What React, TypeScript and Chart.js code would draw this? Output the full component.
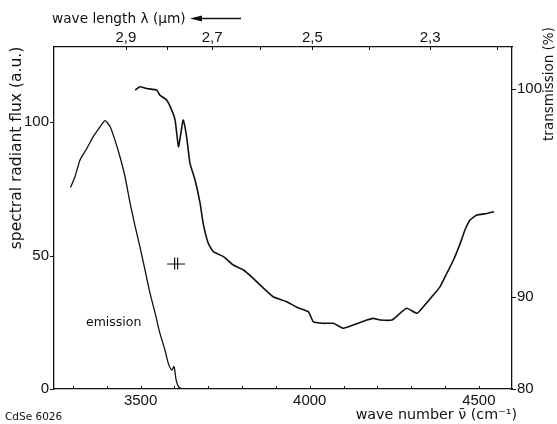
import React, { useEffect, useRef } from "react";
import { Chart, registerables, LinearScale } from "chart.js";
Chart.register(...registerables);

// ---- data (wave number in cm^-1) ----
const emissionX = [3293, 3306, 3321, 3341, 3360, 3380, 3395, 3410, 3424, 3439, 3454, 3469, 3484, 3498, 3513, 3528, 3543, 3557, 3572, 3582, 3592, 3599, 3605, 3612, 3625, 3655];
const emissionY = [75.5, 79.5, 85.8, 90.1, 94.5, 98.2, 100.5, 98.2, 93.3, 87, 79.5, 69.6, 60.8, 53.3, 44.6, 35.8, 28.4, 20.9, 14.6, 9.6, 7.1, 8.4, 3.4, 0.9, 0, 0];

const transX = [3484, 3498, 3518, 3548, 3557, 3577, 3592, 3602, 3612, 3619, 3626, 3636, 3646, 3661, 3676, 3685, 3700, 3715, 3745, 3774, 3804, 3833, 3853, 3892, 3932, 3962, 3996, 4011, 4040, 4070, 4099, 4129, 4169, 4188, 4208, 4243, 4267, 4287, 4317, 4336, 4361, 4385, 4405, 4425, 4445, 4459, 4474, 4494, 4524, 4545];
const transY = [99.95, 100.11, 100.03, 99.95, 99.71, 99.47, 98.99, 98.51, 97.23, 97.87, 98.51, 97.71, 96.43, 95.63, 94.5, 93.54, 92.58, 92.18, 91.94, 91.54, 91.3, 90.9, 90.58, 90.01, 89.49, 88.88, 88.4, 87.29, 87.14, 87.14, 86.6, 86.96, 87.5, 87.68, 87.5, 87.5, 88.23, 88.77, 88.23, 88.95, 90.01, 90.49, 91.13, 91.78, 92.58, 93.22, 93.7, 93.94, 94.02, 94.1];

const waveNumberTicks = [3300, 3400, 3500, 3600, 3700, 3800, 3900, 4000, 4100, 4200, 4300, 4400, 4500];
const waveNumberLabels = [3500, 4000, 4500];
const wavelengthTicks = [2.9, 2.8, 2.7, 2.6, 2.5, 2.4, 2.3, 2.2];
const wavelengthLabels = ["2,9", "2,7", "2,5", "2,3"];
const fluxTicks = [0, 50, 100];
const transTicks = [80, 90, 100];

const markerX = [3605];
const markerY = [47];

// layout of the (non-uniform) transmission axis: value -> fraction of plot height
const transAxisValues = [80, 90, 100, 102.02];
const transAxisFractions = [0, 0.269, 0.877, 1];

class PiecewiseScale extends LinearScale {
  static id = "piecewise";
  static defaults = (LinearScale as any).defaults;
  getPixelForValue(value: number) {
    const v = transAxisValues;
    const f = transAxisFractions;
    let i = 0;
    while (i < v.length - 2 && value > v[i + 1]) i++;
    const dec = f[i] + ((value - v[i]) / (v[i + 1] - v[i])) * (f[i + 1] - f[i]);
    return (this as any).getPixelForDecimal(dec);
  }
  getValueForPixel(pixel: number) {
    const dec = (this as any).getDecimalForPixel(pixel);
    const v = transAxisValues;
    const f = transAxisFractions;
    let i = 0;
    while (i < f.length - 2 && dec > f[i + 1]) i++;
    return v[i] + ((dec - f[i]) / (f[i + 1] - f[i])) * (v[i + 1] - v[i]);
  }
}
Chart.register(PiecewiseScale as any);

const TICK_FONT = "'Liberation Sans', 'DejaVu Sans', sans-serif";
const TEXT_FONT = "'DejaVu Sans', sans-serif";

const inTicks = {
  id: "inTicks",
  afterDraw(chart: any) {
    const { ctx, chartArea } = chart;
    const { left, right, top, bottom } = chartArea;
    const line = (x1: number, y1: number, x2: number, y2: number) => {
      ctx.beginPath();
      ctx.moveTo(x1, y1);
      ctx.lineTo(x2, y2);
      ctx.stroke();
    };
    ctx.save();
    ctx.strokeStyle = "#111";
    ctx.lineWidth = 1;
    for (const t of chart.scales.x.ticks) {
      const p = Math.round(chart.scales.x.getPixelForValue(t.value)) + 0.5;
      line(p, bottom, p, bottom - 3);
    }
    for (const t of chart.scales.x2.ticks) {
      const p = Math.round(chart.scales.x2.getPixelForValue(t.value)) + 0.5;
      line(p, top, p, top + 3);
    }
    for (const t of chart.scales.y.ticks) {
      const p = Math.round(chart.scales.y.getPixelForValue(t.value)) + 0.5;
      line(left, p, left - 4, p);
    }
    for (const t of chart.scales.y2.ticks) {
      const p = Math.round(chart.scales.y2.getPixelForValue(t.value)) + 0.5;
      line(right, p, right + 4, p);
    }
    // resolution marker
    for (let i = 0; i < markerX.length; i++) {
      const mx = chart.scales.x.getPixelForValue(markerX[i]);
      const my = chart.scales.y.getPixelForValue(markerY[i]);
      ctx.lineWidth = 1;
      line(mx - 9, my + 0.5, mx + 9, my + 0.5);
      ctx.lineWidth = 1.2;
      line(mx - 1.5, my - 6, mx - 1.5, my + 6);
      line(mx + 1.5, my - 6, mx + 1.5, my + 6);
    }
    ctx.restore();
  },
};

const annotations = {
  id: "annotations",
  afterDraw(chart: any) {
    const { ctx } = chart;
    ctx.save();
    ctx.fillStyle = "#111";
    ctx.strokeStyle = "#111";
    // left title
    ctx.save();
    ctx.translate(20.5, 148);
    ctx.rotate(-Math.PI / 2);
    ctx.textAlign = "center";
    ctx.textBaseline = "alphabetic";
    ctx.font = `15.5px ${TEXT_FONT}`;
    ctx.fillText("spectral radiant flux (a.u.)", 0, 0);
    ctx.restore();
    // right title
    ctx.save();
    ctx.translate(553, 84);
    ctx.rotate(-Math.PI / 2);
    ctx.textAlign = "center";
    ctx.textBaseline = "alphabetic";
    ctx.font = `13.5px ${TEXT_FONT}`;
    ctx.fillText("transmission (%)", 0, 0);
    ctx.restore();
    ctx.textBaseline = "middle";
    // top title
    ctx.textAlign = "left";
    ctx.font = `13.7px ${TEXT_FONT}`;
    ctx.fillText("wave length \u03bb (\u00b5m)", 52, 19.5);
    ctx.lineWidth = 1.3;
    ctx.beginPath();
    ctx.moveTo(194, 18.5);
    ctx.lineTo(241, 18.5);
    ctx.stroke();
    ctx.beginPath();
    ctx.moveTo(190, 18.5);
    ctx.lineTo(202, 15.5);
    ctx.lineTo(202, 21.5);
    ctx.closePath();
    ctx.fill();
    // bottom title
    ctx.textAlign = "right";
    ctx.font = `14.3px ${TEXT_FONT}`;
    ctx.fillText("wave number \u03bd\u0304 (cm\u207b\u00b9)", 517, 415);
    // id
    ctx.textAlign = "left";
    ctx.font = `10.5px ${TEXT_FONT}`;
    ctx.fillText("CdSe 6026", 5, 417);
    // emission label
    ctx.font = `12.5px ${TEXT_FONT}`;
    ctx.fillText("emission", 86, 322.5);
    ctx.restore();
  },
};

export default function App() {
  const ref = useRef<HTMLCanvasElement | null>(null);
  useEffect(() => {
    if (!ref.current) return;
    const chart = new Chart(ref.current, {
      type: "line",
      data: {
        datasets: [
          {
            label: "emission",
            data: emissionX.map((x, i) => ({ x, y: emissionY[i] })),
            xAxisID: "x",
            yAxisID: "y",
            borderColor: "#111",
            borderWidth: 1.3,
            pointRadius: 0,
            tension: 0.2,
            fill: false,
          },
          {
            label: "transmission",
            data: transX.map((x, i) => ({ x, y: transY[i] })),
            xAxisID: "x",
            yAxisID: "y2",
            borderColor: "#111",
            borderWidth: 1.6,
            pointRadius: 0,
            tension: 0.15,
            fill: false,
          },
        ],
      },
      options: {
        animation: false,
        responsive: false,
        events: [],
        layout: { padding: 0 },
        plugins: { legend: { display: false }, tooltip: { enabled: false }, title: { display: false } },
        scales: {
          x: {
            type: "linear",
            position: "bottom",
            min: 3244,
            max: 4598,
            afterBuildTicks: (s: any) => {
              s.ticks = waveNumberTicks.map((v) => ({ value: v }));
            },
            afterFit: (s: any) => {
              s.height = 35;
            },
            grid: { display: false, drawTicks: false },
            border: { display: true, color: "#111", width: 1.3 },
            ticks: {
              autoSkip: false,
              maxRotation: 0,
              padding: 3,
              color: "#111",
              font: { family: TICK_FONT, size: 15 },
              callback: (v: any) => (waveNumberLabels.includes(v) ? String(v) : ""),
            },
          },
          x2: {
            type: "linear",
            position: "top",
            min: 3236,
            max: 4590,
            afterBuildTicks: (s: any) => {
              s.ticks = wavelengthTicks.map((l) => ({ value: 10000 / l }));
            },
            afterFit: (s: any) => {
              s.height = 47;
            },
            grid: { display: false, drawTicks: false },
            border: { display: true, color: "#111", width: 1.3 },
            ticks: {
              autoSkip: false,
              maxRotation: 0,
              padding: 0,
              color: "#111",
              font: { family: TICK_FONT, size: 15 },
              callback: (v: any, i: number) => {
                const s = String(wavelengthTicks[i]).replace(".", ",");
                return wavelengthLabels.includes(s) ? s : "";
              },
            },
          },
          y: {
            type: "linear",
            position: "left",
            min: 0,
            max: 128.1,
            afterBuildTicks: (s: any) => {
              s.ticks = fluxTicks.map((v) => ({ value: v }));
            },
            afterFit: (s: any) => {
              s.width = 54;
            },
            grid: { display: false, drawTicks: false },
            border: { display: true, color: "#111", width: 1.3 },
            ticks: { padding: 5, color: "#111", font: { family: TICK_FONT, size: 15 } },
          },
          y2: {
            type: "piecewise" as any,
            position: "right",
            min: 80,
            max: 102.02,
            afterBuildTicks: (s: any) => {
              s.ticks = transTicks.map((v) => ({ value: v }));
            },
            afterFit: (s: any) => {
              s.width = 45;
            },
            grid: { display: false, drawTicks: false },
            border: { display: true, color: "#111", width: 1.3 },
            ticks: { padding: 5, color: "#111", font: { family: TICK_FONT, size: 15 } },
          } as any,
        },
      },
      plugins: [inTicks, annotations],
    });
    return () => chart.destroy();
  }, []);
  return (
    <div style={{ position: "fixed", left: 0, top: 0, width: 557, height: 424, background: "#fff" }}>
      <canvas ref={ref} width={557} height={424} />
    </div>
  );
}
